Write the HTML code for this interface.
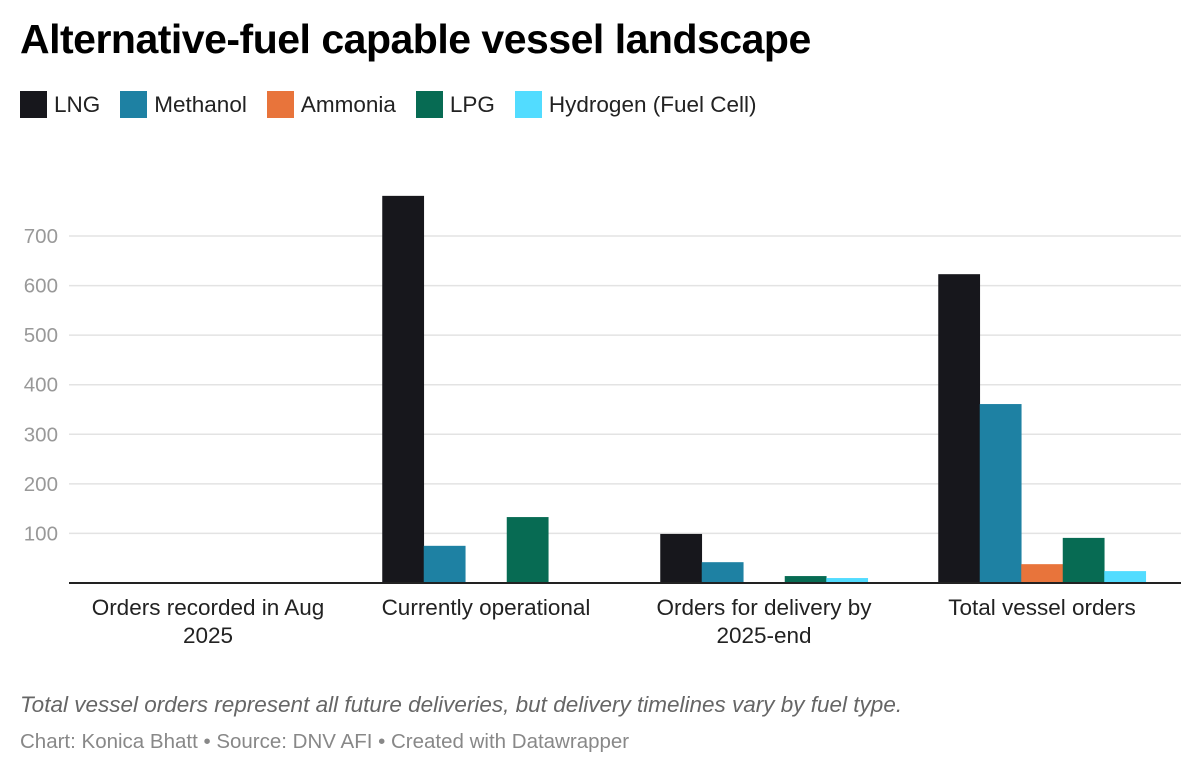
<!DOCTYPE html>
<html><head><meta charset="utf-8">
<style>
body{margin:0;width:1200px;height:774px;background:#fff;font-family:"Liberation Sans",sans-serif;overflow:hidden;position:relative}
h1{position:absolute;left:20px;top:16px;margin:0;font-size:41px;font-weight:bold;color:#000;letter-spacing:-0.5px}
.legend{position:absolute;left:20px;top:91px;display:flex;font-size:22.5px;color:#222}
.li{display:flex;align-items:center;margin-right:20px}
.sw{width:27px;height:27px;margin-right:7px}
.note{position:absolute;left:20px;top:692px;font-size:22.5px;font-style:italic;color:#666}
.src{position:absolute;left:20px;top:730px;font-size:20.5px;color:#888}
svg{position:absolute;left:0;top:0}
</style></head><body>
<h1>Alternative-fuel capable vessel landscape</h1>
<div class="legend">
<div class="li"><div class="sw" style="background:#17171c"></div>LNG</div>
<div class="li"><div class="sw" style="background:#1e81a3"></div>Methanol</div>
<div class="li"><div class="sw" style="background:#e8743b"></div>Ammonia</div>
<div class="li"><div class="sw" style="background:#076b53"></div>LPG</div>
<div class="li"><div class="sw" style="background:#52dcff"></div>Hydrogen (Fuel Cell)</div>
</div>
<svg id="chart" width="1200" height="774"></svg>
<div class="note">Total vessel orders represent all future deliveries, but delivery timelines vary by fuel type.</div>
<div class="src">Chart: Konica Bhatt • Source: DNV AFI • Created with Datawrapper</div>
<script>
const categories=[["Orders recorded in Aug","2025"],["Currently operational"],["Orders for delivery by","2025-end"],["Total vessel orders"]];
const lng=[0,781,99,623];
const methanol=[0,75,42,361];
const ammonia=[0,1,0,38];
const lpg=[0,133,14,91];
const hydrogen=[0,2,10,24];
const yTicks=[100,200,300,400,500,600,700];
const series=[lng,methanol,ammonia,lpg,hydrogen];
const colors=["#17171c","#1e81a3","#e8743b","#076b53","#52dcff"];
const names=["lng","methanol","ammonia","lpg","hydrogen"];
const svg=document.getElementById('chart');
const NS="http://www.w3.org/2000/svg";
const x0=69,x1=1181,y0=583,pxPer=0.4957;
const band=(x1-x0)/categories.length;
const y=v=>y0-v*pxPer;
const bw=41.5;
function mk(t,a){const e=document.createElementNS(NS,t);for(const k in a)e.setAttribute(k,a[k]);svg.appendChild(e);return e;}
yTicks.forEach(t=>{
 const g=mk('line',{x1:x0,x2:x1,y1:y(t),y2:y(t),stroke:'#e3e3e3','stroke-width':1.5});
 
 
 const l=mk('text',{x:58,y:y(t)+7,'text-anchor':'end','font-size':20.5,fill:'#999','font-family':'Liberation Sans, sans-serif'});
 l.textContent=t;
 
 
});
categories.forEach((c,i)=>{
 const cx=x0+band*(i+0.5);
 series.forEach((s,j)=>{
  const h=s[i]*pxPer;
  if(h<=0)return;
  const r=mk('rect',{x:cx-bw*2.5+j*bw,y:y(s[i]),width:bw+0.3,height:h,fill:colors[j]});
  
  
 });
 c.forEach((ln,k)=>{
  const t=mk('text',{x:cx,y:615+k*28,'text-anchor':'middle','font-size':22.5,fill:'#222','font-family':'Liberation Sans, sans-serif'});
  t.textContent=ln;
  
  
 });
});
const ax=mk('line',{x1:x0,x2:x1,y1:y0,y2:y0,stroke:'#222','stroke-width':2});


</script>
</body></html>
